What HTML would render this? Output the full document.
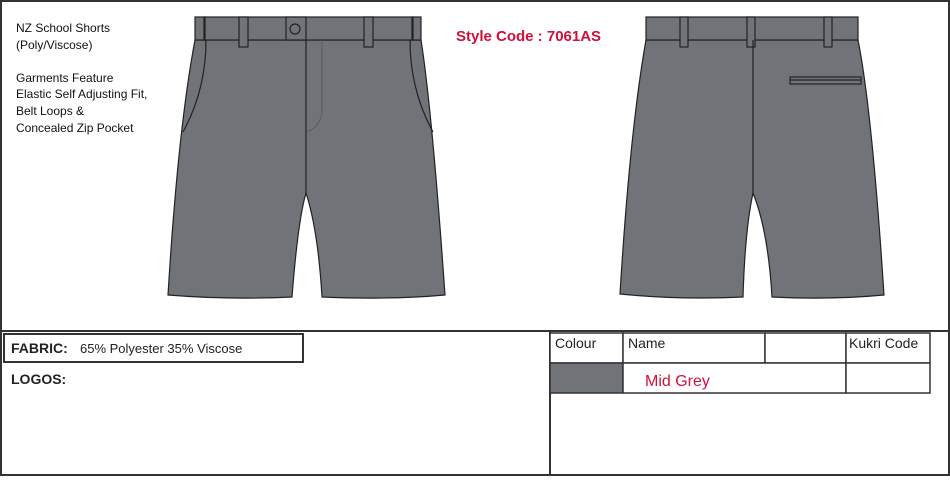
<!DOCTYPE html>
<html><head><meta charset="utf-8"><style>
html,body{margin:0;padding:0;background:#fff}
body{width:950px;height:476px;overflow:hidden;font-family:"Liberation Sans",sans-serif}
</style></head><body>
<svg width="950" height="476" viewBox="0 0 950 476" xmlns="http://www.w3.org/2000/svg" font-family="Liberation Sans, sans-serif">
<rect x="1" y="1" width="948" height="474" fill="#fff" stroke="#333" stroke-width="2"/>
<line x1="1" y1="331" x2="949" y2="331" stroke="#333" stroke-width="2"/>
<line x1="550" y1="331" x2="550" y2="475" stroke="#333" stroke-width="2"/>
<text x="16" y="32" font-size="12" fill="#111">NZ School Shorts</text>
<text x="16" y="49" font-size="12" fill="#111">(Poly/Viscose)</text>
<text x="16" y="82" font-size="12" fill="#111">Garments Feature</text>
<text x="16" y="98" font-size="12" fill="#111">Elastic Self Adjusting Fit,</text>
<text x="16" y="115" font-size="12" fill="#111">Belt Loops &amp;</text>
<text x="16" y="132" font-size="12" fill="#111">Concealed Zip Pocket</text>
<text x="456" y="41" font-size="15" font-weight="bold" fill="#d0103a">Style Code :  7061AS</text>
<!-- front shorts -->
<g stroke="#222" stroke-width="1.2" fill="#707378">
<path d="M195,40 L421,40 Q432,110 445,295 Q390,300 322,297 Q318,230 306,193 Q298,220 292,297 Q230,300 168,295 Q178,130 195,40 Z"/>
<rect x="195" y="17" width="226" height="23"/>
<rect x="204" y="17" width="1" height="23"/>
<rect x="412" y="17" width="1" height="23"/>
<rect x="239" y="17" width="9" height="30"/>
<rect x="364" y="17" width="9" height="30"/>
<rect x="286" y="17" width="20" height="23"/>
<circle cx="295" cy="29" r="5"/>
<path d="M306,40 L306,193" fill="none"/>
<path d="M322,40 L322,112 Q320,128 306,132" fill="none" stroke="#555" stroke-width="0.8"/>
<path d="M206,40 Q206,90 183,132" fill="none"/>
<path d="M410,40 Q410,90 433,132" fill="none"/>
</g>
<!-- back shorts -->
<g stroke="#222" stroke-width="1.2" fill="#707378">
<path d="M646,40 L858,40 Q872,110 884,295 Q830,300 772,297 Q768,230 753,193 Q745,230 743,297 Q680,300 620,294 Q630,130 646,40 Z"/>
<rect x="646" y="17" width="212" height="23"/>
<rect x="680" y="17" width="8" height="30"/>
<rect x="747" y="17" width="8" height="30"/>
<rect x="824" y="17" width="8" height="30"/>
<path d="M753,40 L753,193" fill="none"/>
<rect x="790" y="77" width="71" height="7"/>
<line x1="790" y1="80" x2="861" y2="80"/>
</g>
<!-- fabric -->
<rect x="4" y="334" width="299" height="28" fill="#fff" stroke="#333" stroke-width="2"/>
<text x="11" y="353" font-size="14" font-weight="bold" fill="#222">FABRIC:</text>
<text x="80" y="353" font-size="13" fill="#222">65% Polyester 35% Viscose</text>
<text x="11" y="384" font-size="14" font-weight="bold" fill="#222">LOGOS:</text>
<!-- colour table -->
<g stroke="#333" stroke-width="1.5" fill="#fff">
<rect x="550" y="333" width="73" height="30"/>
<rect x="623" y="333" width="142" height="30"/>
<rect x="765" y="333" width="81" height="30"/>
<rect x="846" y="333" width="84" height="30"/>
<rect x="550" y="363" width="73" height="30" fill="#707378"/>
<rect x="623" y="363" width="223" height="30"/>
<rect x="846" y="363" width="84" height="30"/>
</g>
<text x="555" y="348" font-size="14" fill="#222">Colour</text>
<text x="628" y="348" font-size="14" fill="#222">Name</text>
<text x="849" y="348" font-size="14" fill="#222">Kukri Code</text>
<text x="645" y="386" font-size="16" fill="#d0103a">Mid Grey</text>
</svg>
</body></html>
